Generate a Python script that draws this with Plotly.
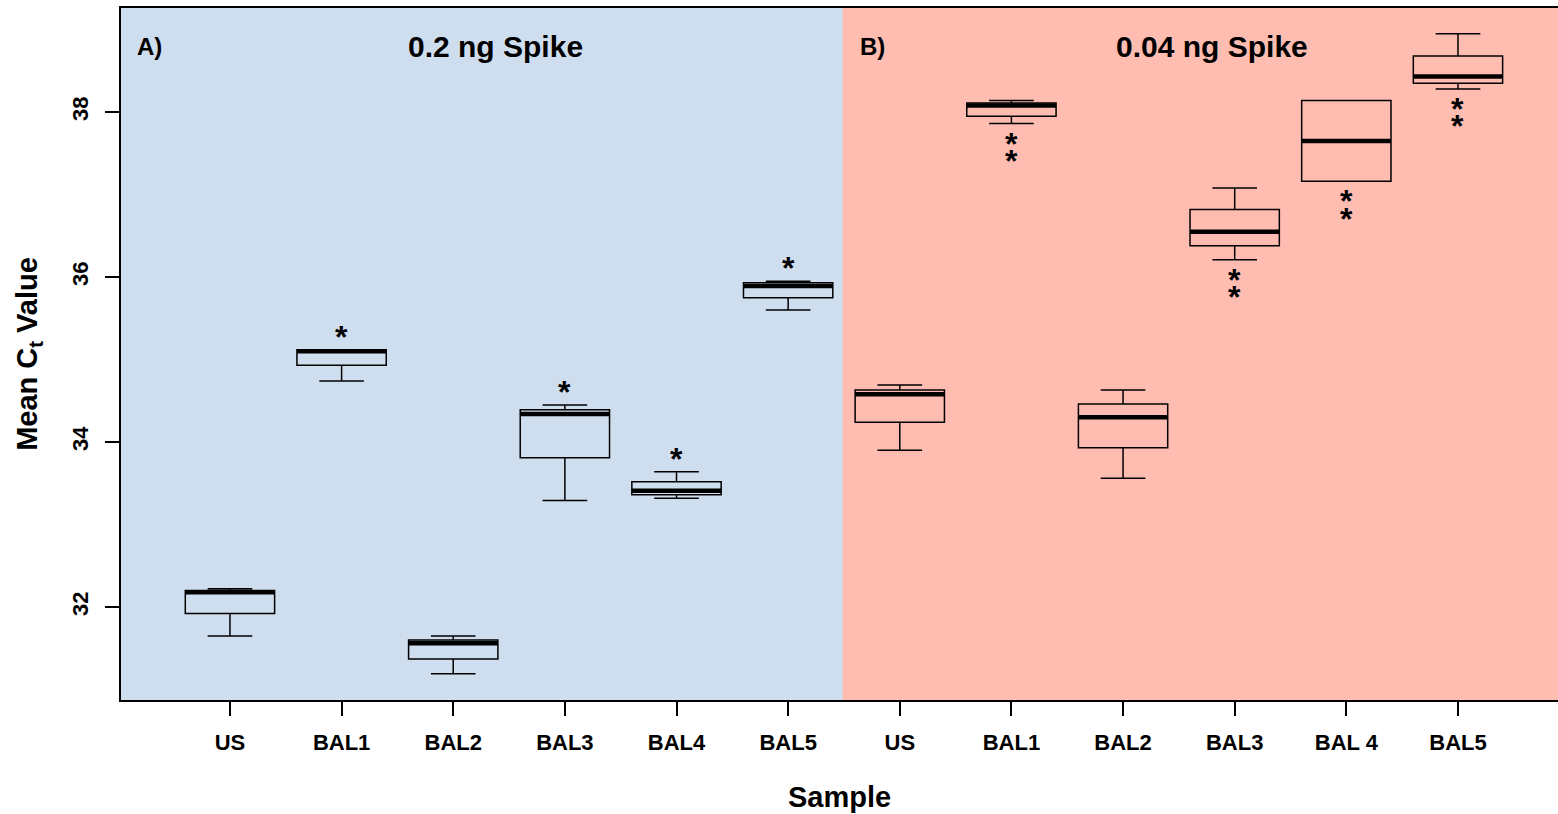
import plotly.graph_objects as go

# ---- data ----
labels = ["US", "BAL1", "BAL2", "BAL3", "BAL4", "BAL5",
          "US", "BAL1", "BAL2", "BAL3", "BAL 4", "BAL5"]
positions = list(range(1, 13))
lower_whisker = [31.65, 34.74, 31.19, 33.29, 33.32, 35.60,
                 33.90, 37.86, 33.56, 36.21, 37.16, 38.28]
q1 = [31.92, 34.93, 31.37, 33.81, 33.36, 35.75,
      34.24, 37.95, 33.93, 36.38, 37.16, 38.35]
median = [32.18, 35.10, 31.56, 34.34, 33.41, 35.89,
          34.58, 38.08, 34.30, 36.55, 37.65, 38.43]
q3 = [32.20, 35.12, 31.60, 34.39, 33.52, 35.93,
      34.63, 38.11, 34.46, 36.82, 38.14, 38.68]
upper_whisker = [32.22, 35.12, 31.65, 34.45, 33.64, 35.95,
                 34.69, 38.14, 34.63, 37.08, 38.14, 38.95]
# significance stars: count per box; panel A above the box, panel B below
stars = [0, 1, 0, 1, 1, 1, 0, 2, 0, 2, 2, 2]
panel = ["A"] * 6 + ["B"] * 6
panel_titles = ["0.2 ng Spike", "0.04 ng Spike"]
panel_tags = ["A)", "B)"]
yticks = [32, 34, 36, 38]

# ---- styling ----
FONT = "Liberation Sans, Arial, Helvetica, sans-serif"
BLUE = "#CFDEEE"
SALMON = "#FFBCB1"
XMIN, XMAX = 0.024, 12.896
YMIN, YMAX = 30.873, 39.261
SPLIT = 6.49
BOX_W = 0.8

fig = go.Figure()

for i, p in enumerate(positions):
    fig.add_trace(go.Box(
        x=[p], q1=[q1[i]], median=[median[i]], q3=[q3[i]],
        lowerfence=[lower_whisker[i]], upperfence=[upper_whisker[i]],
        width=BOX_W, whiskerwidth=0.5,
        fillcolor="rgba(0,0,0,0)",
        line=dict(color="black", width=1.5),
        boxpoints=False, showlegend=False, hoverinfo="skip",
    ))

# thick median lines (R style)
mx, my = [], []
for i, p in enumerate(positions):
    mx += [p - BOX_W / 2, p + BOX_W / 2, None]
    my += [median[i], median[i], None]
fig.add_trace(go.Scatter(x=mx, y=my, mode="lines",
                         line=dict(color="black", width=4.5),
                         showlegend=False, hoverinfo="skip"))

# stars
STAR_FONT = dict(family=FONT, size=32, color="black", weight="bold")
for i, p in enumerate(positions):
    for k in range(stars[i]):
        if panel[i] == "A":
            fig.add_annotation(x=p, y=upper_whisker[i], xref="x", yref="y",
                               text="*", showarrow=False, yshift=13, font=STAR_FONT)
        else:
            fig.add_annotation(x=p, y=lower_whisker[i], xref="x", yref="y",
                               text="*", showarrow=False, yshift=-20 - 17.5 * k,
                               font=STAR_FONT)

# panel backgrounds
fig.add_shape(type="rect", xref="x", yref="y", x0=XMIN, x1=SPLIT, y0=YMIN, y1=YMAX,
              fillcolor=BLUE, line=dict(width=0), layer="below")
fig.add_shape(type="rect", xref="x", yref="y", x0=SPLIT, x1=XMAX, y0=YMIN, y1=YMAX,
              fillcolor=SALMON, line=dict(width=0), layer="below")

# panel labels
fig.add_annotation(x=0.283, y=38.79, xref="x", yref="y", text=panel_tags[0],
                   showarrow=False, font=dict(family=FONT, size=24, color="black", weight="bold"))
fig.add_annotation(x=3.383, y=38.79, xref="x", yref="y", text=panel_titles[0],
                   showarrow=False, font=dict(family=FONT, size=30, color="black", weight="bold"))
fig.add_annotation(x=6.753, y=38.79, xref="x", yref="y", text=panel_tags[1],
                   showarrow=False, font=dict(family=FONT, size=24, color="black", weight="bold"))
fig.add_annotation(x=9.80, y=38.79, xref="x", yref="y", text=panel_titles[1],
                   showarrow=False, font=dict(family=FONT, size=30, color="black", weight="bold"))

fig.update_layout(
    width=1558, height=814,
    margin=dict(l=121, r=0, t=8, b=114),
    paper_bgcolor="white", plot_bgcolor=SALMON,
    font=dict(family=FONT, color="black"),
    showlegend=False,
    xaxis=dict(
        range=[XMIN, XMAX], tickmode="array", tickvals=positions, ticktext=labels,
        ticks="outside", ticklen=14, tickwidth=1.5, tickcolor="black",
        showline=True, linecolor="black", linewidth=2, mirror=True,
        showgrid=False, zeroline=False,
        tickfont=dict(family=FONT, size=22, color="black", weight="bold"),
        ticklabelstandoff=8,
        title=dict(text="Sample", standoff=32,
                   font=dict(family=FONT, size=29, color="black", weight="bold")),
    ),
    yaxis=dict(
        range=[YMIN, YMAX], tickmode="array", tickvals=yticks,
        ticktext=[str(v) for v in yticks],
        ticks="outside", ticklen=14, tickwidth=1.5, tickcolor="black",
        showline=True, linecolor="black", linewidth=2, mirror=False,
        showgrid=False, zeroline=False, tickangle=-90,
        tickfont=dict(family=FONT, size=22, color="black", weight="bold"),
        ticklabelstandoff=8,
        title=dict(text="Mean C<sub>t</sub> Value", standoff=22,
                   font=dict(family=FONT, size=29, color="black", weight="bold")),
    ),
)

fig.write_html(
    "out.html",
    config={"displayModeBar": False},
    post_script="document.body.style.margin='0';document.body.style.overflow='hidden';",
)
